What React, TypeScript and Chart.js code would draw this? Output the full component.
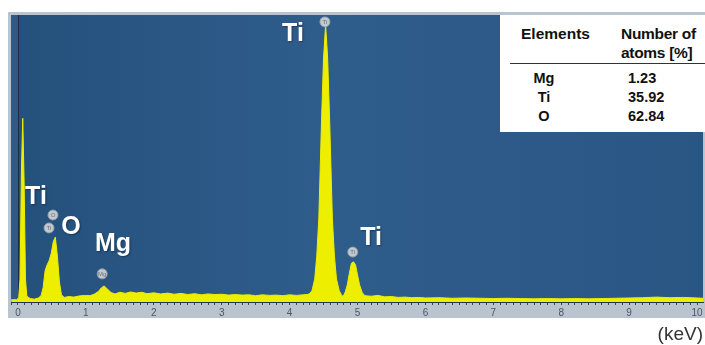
import React, { useEffect, useRef } from "react";
import { Chart, registerables } from "chart.js";
Chart.register(...registerables);

// EDS spectrum: energy (keV) and counts (relative, 0-100)
const energyKeV = [
  -0.1, -0.02, 0.01, 0.03, 0.05, 0.07, 0.09, 0.11, 0.13, 0.18, 0.24, 0.3, 0.34, 0.37, 0.4, 0.43, 0.46, 0.49, 0.52, 0.55,
  0.58, 0.61, 0.64, 0.68, 0.75, 0.82, 0.9, 0.98, 1.06, 1.12, 1.18, 1.23, 1.27, 1.32, 1.37, 1.43, 1.5, 1.58, 1.66, 1.74,
  1.82, 1.9, 2.0, 2.1, 2.2, 2.3, 2.4, 2.5, 2.6, 2.7, 2.8, 2.9, 3.0, 3.1, 3.2, 3.3, 3.4, 3.5, 3.6, 3.7,
  3.8, 3.9, 4.0, 4.1, 4.2, 4.26, 4.3, 4.33, 4.37, 4.4, 4.43, 4.47, 4.5, 4.53, 4.56, 4.59, 4.63, 4.66, 4.69, 4.73,
  4.77, 4.79, 4.82, 4.85, 4.88, 4.91, 4.94, 4.97, 5.0, 5.03, 5.07, 5.11, 5.2, 5.3, 5.4, 5.5, 5.6, 5.7, 5.8, 5.9,
  6.0, 6.2, 6.4, 6.6, 6.8, 7.0, 7.2, 7.4, 7.6, 7.8, 8.0, 8.2, 8.4, 8.6, 8.8, 9.0, 9.2, 9.4, 9.6, 9.8, 10.0, 10.09,
];
const counts = [
  0.8, 0.8, 1.5, 8, 45, 64, 42, 8, 2, 1.2, 1.0, 1.4, 2.2, 5, 11, 13, 14.5, 17, 21, 22.6,
  16, 7, 2.5, 1.6, 1.9, 1.7, 2.1, 2.3, 2.2, 2.7, 3.6, 5, 5.6, 4.4, 3.3, 2.8, 3.4, 3.0, 3.5, 3.1,
  3.4, 2.9, 3.2, 2.8, 3.1, 2.7, 3.0, 2.6, 2.9, 2.5, 2.8, 2.6, 2.7, 2.4, 2.6, 2.4, 2.5, 2.2, 2.5, 2.3,
  2.4, 2.2, 2.5, 2.3, 2.5, 2.6, 3.0, 4, 8, 16, 29, 63, 85, 96.5, 85, 63, 29, 16, 8, 4,
  2.2, 2.0, 3.5, 6, 10, 13.5, 14.0, 13, 9.5, 6, 3.2, 2.2, 2.0, 2.3, 1.8, 1.9, 1.6, 1.7, 1.5, 1.6,
  1.4, 1.5, 1.3, 1.4, 1.3, 1.2, 1.3, 1.2, 1.1, 1.2, 1.1, 1.2, 1.1, 1.2, 1.3, 1.4, 1.5, 1.7, 1.5, 1.6, 1.4, 1.3,
];

// peak identification markers
const markerKeV = [0.457, 0.515, 1.24, 4.52, 4.93];
const markerCounts = [25.8, 30.3, 9.8, 97.6, 17.4];
const markerTags = ["Ti", "O", "Mg", "Ti", "Ti"];

// peak labels
const labelTexts = ["Ti", "O", "Mg", "Ti", "Ti"];
const labelKeV = [0.265, 0.78, 1.4, 4.05, 5.2];
const labelCounts = [36.6, 26.1, 20.2, 93.4, 22.3];

// composition table
const tableElements = ["Mg", "Ti", "O"];
const tableAtoms = ["1.23", "35.92", "62.84"];

const FONT = 'Arial, "Liberation Sans", sans-serif';

export default function App() {
  const ref = useRef<HTMLCanvasElement | null>(null);

  useEffect(() => {
    const canvas = ref.current;
    if (!canvas) return;

    const bgPlugin = {
      id: "bgPlugin",
      beforeDraw(chart: any) {
        const { ctx, chartArea } = chart;
        ctx.save();
        ctx.fillStyle = "#b9c4cf";
        ctx.fillRect(8, 12, 697, 306);
        const g = ctx.createLinearGradient(chartArea.left, 0, chartArea.right, 0);
        g.addColorStop(0, "#24507c");
        g.addColorStop(0.45, "#2f5d8b");
        g.addColorStop(1, "#2a5684");
        ctx.fillStyle = g;
        ctx.fillRect(chartArea.left, chartArea.top, chartArea.right - chartArea.left, chartArea.bottom - chartArea.top);
        const x0 = chart.scales.x.getPixelForValue(0);
        ctx.fillStyle = "rgba(255,255,255,0.06)";
        ctx.fillRect(chartArea.left, chartArea.top, x0 - chartArea.left, chartArea.bottom - chartArea.top);
        ctx.strokeStyle = "rgba(20,30,45,0.7)";
        ctx.lineWidth = 1;
        ctx.beginPath();
        ctx.moveTo(Math.round(x0) + 0.5, chartArea.top);
        ctx.lineTo(Math.round(x0) + 0.5, chartArea.bottom);
        ctx.stroke();
        ctx.restore();
      },
    };

    const labelPlugin = {
      id: "labelPlugin",
      afterDatasetsDraw(chart: any) {
        const { ctx } = chart;
        const xs = chart.scales.x;
        const ys = chart.scales.y;
        ctx.save();
        ctx.font = `6px ${FONT}`;
        ctx.fillStyle = "#6a7076";
        ctx.textAlign = "center";
        ctx.textBaseline = "middle";
        markerTags.forEach((t, i) => {
          ctx.fillText(t, xs.getPixelForValue(markerKeV[i]), ys.getPixelForValue(markerCounts[i]));
        });
        ctx.font = `bold 25px ${FONT}`;
        ctx.fillStyle = "#ffffff";
        ctx.shadowColor = "rgba(0,0,0,0.35)";
        ctx.shadowBlur = 2;
        ctx.shadowOffsetX = 1;
        ctx.shadowOffsetY = 1;
        labelTexts.forEach((t, i) => {
          ctx.fillText(t, xs.getPixelForValue(labelKeV[i]), ys.getPixelForValue(labelCounts[i]));
        });
        ctx.restore();
      },
    };

    const chart = new Chart(canvas, {
      type: "line",
      data: {
        datasets: [
          {
            label: "markers",
            data: markerKeV.map((x, i) => ({ x, y: markerCounts[i] })),
            showLine: false,
            pointRadius: 5,
            pointBackgroundColor: "rgba(205,210,216,0.92)",
            pointBorderColor: "rgba(150,156,162,0.9)",
            pointBorderWidth: 1,
          },
          {
            label: "spectrum",
            data: energyKeV.map((x, i) => ({ x, y: counts[i] })),
            borderColor: "#eeee00",
            backgroundColor: "#eeee00",
            fill: "origin",
            pointRadius: 0,
            borderWidth: 1,
            tension: 0,
          },
        ],
      },
      options: {
        animation: false,
        responsive: false,
        maintainAspectRatio: false,
        layout: { autoPadding: false, padding: { left: 11, right: 2, top: 15, bottom: 0 } },
        plugins: { legend: { display: false }, tooltip: { enabled: false } },
        scales: {
          x: {
            type: "linear",
            min: -0.103,
            max: 10.088,
            afterFit: (s: any) => {
              s.height = 43;
              s.paddingLeft = 0;
              s.paddingRight = 0;
            },
            ticks: {
              stepSize: 0.1,
              includeBounds: false,
              autoSkip: false,
              maxRotation: 0,
              padding: 2,
              font: { size: 10, family: FONT },
              color: "#4b5661",
              callback: (v: any) => {
                const n = Number(v);
                return Math.abs(n - Math.round(n)) < 1e-6 ? String(Math.round(n)) : "";
              },
            },
            grid: { drawOnChartArea: false, drawTicks: true, tickLength: 3, color: "#3a4655" },
            border: { display: true, color: "#22364d", width: 1 },
          },
          y: { display: false, min: 0, max: 100 },
        },
      },
      plugins: [bgPlugin, labelPlugin],
    } as any);

    return () => chart.destroy();
  }, []);

  const cell: React.CSSProperties = {
    position: "absolute",
    fontFamily: FONT,
    fontWeight: "bold",
    color: "#111",
    whiteSpace: "nowrap",
    lineHeight: "1",
  };

  return (
    <div style={{ position: "absolute", left: 0, top: 0, width: 705, height: 345, overflow: "hidden", background: "#fff" }}>
      <canvas ref={ref} width={705} height={345} style={{ position: "absolute", left: 0, top: 0 }} />
      <div style={{ position: "absolute", left: 500, top: 15, width: 205, height: 117, background: "#fff" }}>
        <div style={{ ...cell, left: 21, top: 11, fontSize: 15.5 }}>Elements</div>
        <div style={{ ...cell, left: 121, top: 11, fontSize: 15.5, letterSpacing: -0.3 }}>Number of</div>
        <div style={{ ...cell, left: 121, top: 30, fontSize: 15.5, letterSpacing: -0.3 }}>atoms [%]</div>
        <div style={{ position: "absolute", left: 10, top: 48, width: 195, height: 0, borderTop: "1.5px solid #333" }} />
        {tableElements.map((e, i) => (
          <div key={e} style={{ ...cell, left: 14, width: 60, textAlign: "center", top: 56 + i * 19, fontSize: 14.5 }}>
            {e}
          </div>
        ))}
        {tableAtoms.map((a, i) => (
          <div key={a} style={{ ...cell, left: 128, top: 56 + i * 19, fontSize: 14.5 }}>
            {a}
          </div>
        ))}
      </div>
      <div style={{ position: "absolute", right: 2, top: 323, fontFamily: FONT, fontSize: 19, color: "#333", lineHeight: "22px" }}>
        (keV)
      </div>
    </div>
  );
}
